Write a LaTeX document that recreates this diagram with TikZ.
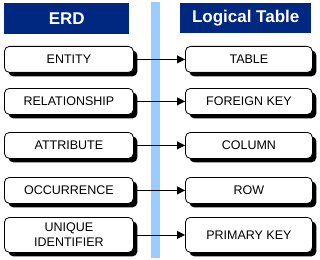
\documentclass[tikz,border=0pt]{standalone}
\usepackage{fontspec}
\setmainfont{Liberation Sans}
\usetikzlibrary{shadows,arrows.meta}
\definecolor{hdrblue}{RGB}{0,40,128}
\definecolor{barblue}{RGB}{153,204,255}
\tikzset{
  hdr/.style={fill=hdrblue, text=white, font=\fontsize{17}{19}\selectfont\bfseries, inner sep=0pt, anchor=north west},
  itembox/.style={draw=black, line width=0.8pt, fill=white, rounded corners=5pt, inner sep=0pt, anchor=north west,
    font=\fontsize{12.5}{15}\selectfont, align=center,
    drop shadow={shadow xshift=4pt, shadow yshift=-4pt, fill=black, opacity=1}},
  link/.style={draw=black, line width=0.8pt, -{Triangle[length=8pt,width=8pt]}}
}
\begin{document}
\begin{tikzpicture}[x=1pt,y=-1pt]
\useasboundingbox (0,0) rectangle (320,259);
\fill[barblue] (151,2) rectangle (160,258);
\node[hdr, minimum width=125pt, minimum height=31pt] (herd) at (4,3) {ERD};
\node[hdr, minimum width=131pt, minimum height=30pt] (hlog) at (180,3) {Logical Table};
% left
\node[itembox, minimum width=129pt, minimum height=26pt] (l1) at (4,46) {ENTITY};
\node[itembox, minimum width=129pt, minimum height=26pt] (l2) at (4,88) {RELATIONSHIP};
\node[itembox, minimum width=129pt, minimum height=26pt] (l3) at (4,132) {ATTRIBUTE};
\node[itembox, minimum width=129pt, minimum height=26pt] (l4) at (4,177) {OCCURRENCE};
\node[itembox, minimum width=129pt, minimum height=35pt] (l5) at (4,217) {UNIQUE\\IDENTIFIER};
% right
\node[itembox, minimum width=127pt, minimum height=26pt] (r1) at (185,46) {TABLE};
\node[itembox, minimum width=127pt, minimum height=26pt] (r2) at (185,88) {FOREIGN KEY};
\node[itembox, minimum width=127pt, minimum height=26pt] (r3) at (185,132) {COLUMN};
\node[itembox, minimum width=127pt, minimum height=26pt] (r4) at (185,177) {ROW};
\node[itembox, minimum width=127pt, minimum height=35pt] (r5) at (185,217) {PRIMARY KEY};
\foreach \i in {1,...,5} { \draw[link] (l\i.east) -- (r\i.west); }
\end{tikzpicture}
\end{document}
